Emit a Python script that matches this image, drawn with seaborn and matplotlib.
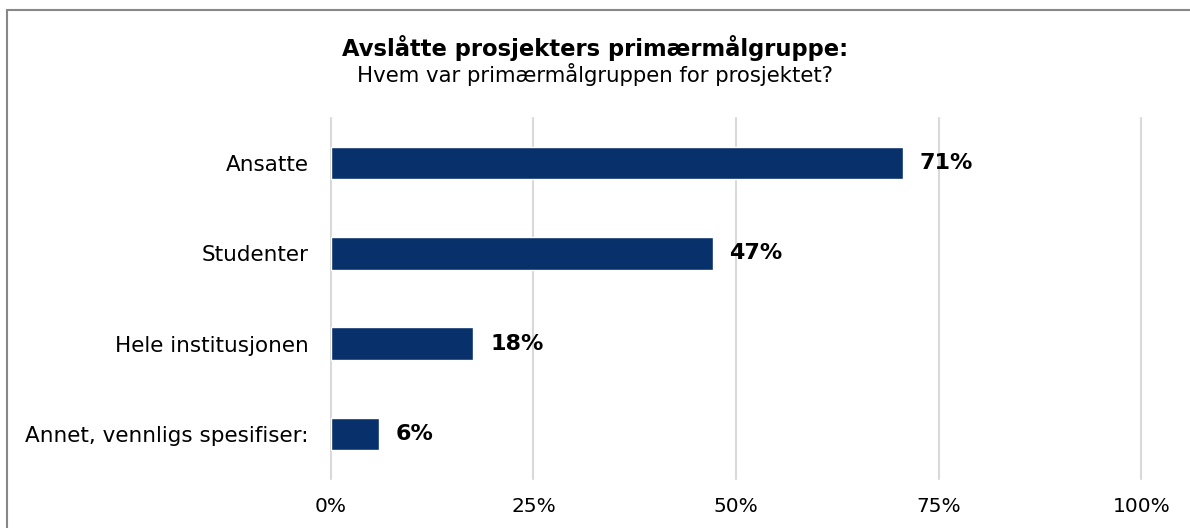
import matplotlib
matplotlib.use("Agg")
import matplotlib.pyplot as plt
import matplotlib.patches as mpatches
import seaborn as sns
import pandas as pd

# Data
categories = ["Ansatte", "Studenter", "Hele institusjonen", "Annet, vennligs spesifiser:"]
shares = [0.706, 0.471, 0.176, 0.059]
x_ticks = [0, 0.25, 0.5, 0.75, 1.0]
x_tick_labels = ["0%", "25%", "50%", "75%", "100%"]

df = pd.DataFrame({"gruppe": categories, "andel": shares})

sns.set_theme(style="white")
plt.rcParams["font.family"] = ["DejaVu Sans"]

fig = plt.figure(figsize=(11.9, 5.28), dpi=100)
ax = fig.add_axes([0.278, 0.0928, 0.681, 0.6837])

sns.barplot(data=df, x="andel", y="gruppe", color="#08306B", width=0.36,
            saturation=1, ax=ax)

ax.set_xlim(0, 1)
ax.set_xticks(x_ticks)
ax.set_xticklabels(x_tick_labels, fontsize=14.5, color="#000000")
ax.tick_params(axis="y", labelsize=15.5, labelcolor="#000000", pad=16, length=0)
ax.tick_params(axis="x", pad=13, length=0)
ax.set_xlabel("")
ax.set_ylabel("")
ax.xaxis.grid(True, color="#D9D9D9", linewidth=1.5)
ax.set_axisbelow(True)
for gl in ax.get_xgridlines():
    gl.set_clip_on(False)
for s in ax.spines.values():
    s.set_visible(False)

# value labels
for i, v in enumerate(shares):
    ax.text(v + 0.021, i, f"{v:.0%}", va="center", ha="left",
            fontsize=16, fontweight="bold", color="#000000")

fig.text(0.5, 0.91, "Avslåtte prosjekters primærmålgruppe:", ha="center",
         va="center", fontsize=16.3, fontweight="bold", color="#000000")
fig.text(0.5, 0.858, "Hvem var primærmålgruppen for prosjektet?", ha="center",
         va="center", fontsize=15.3, color="#000000")

# outer frame
fig.patches.append(mpatches.Rectangle((0.006, -0.1), 1.1, 1.081,
                                      transform=fig.transFigure, fill=False,
                                      edgecolor="#888888", linewidth=1.5))

fig.savefig("out.png", dpi=100)
